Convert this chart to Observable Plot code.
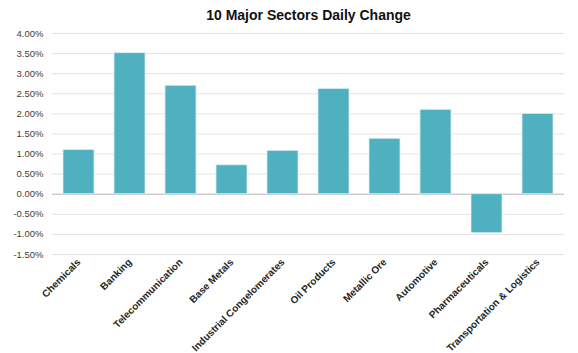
<!DOCTYPE html>
<html><head><meta charset="utf-8">
<script src="https://cdn.jsdelivr.net/npm/d3@7"></script>
<script src="https://cdn.jsdelivr.net/npm/@observablehq/plot@0.6"></script>
<style>body{margin:0;background:#fff;font-family:"Liberation Sans",Arial,sans-serif;}</style>
</head><body><div id="chart"></div>
<script>
const sectors = ["Chemicals","Banking","Telecommunication","Base Metals","Industrial Congelomerates","Oil Products","Metallic Ore","Automotive","Pharmaceuticals","Transportation & Logistics"];
const changes = [1.10, 3.51, 2.70, 0.72, 1.08, 2.62, 1.38, 2.10, -0.97, 2.00];
const yTicks = [-1.5,-1.0,-0.5,0,0.5,1.0,1.5,2.0,2.5,3.0,3.5,4.0];
const title = ["10 Major Sectors Daily Change"];

const data = sectors.map((s,i)=>({sector:s, value:changes[i]}));

const chart = Plot.plot({
  width: 578, height: 353,
  marginTop: 33, marginBottom: 99, marginLeft: 52, marginRight: 14,
  style: {fontFamily: '"Liberation Sans", Arial, sans-serif', background: "#fff"},
  x: {domain: sectors, paddingInner: 0.4, paddingOuter: 0.2, label: null},
  y: {domain: [-1.5, 4.0], label: null},
  marks: [
    Plot.ruleY(yTicks, {stroke: "#e3e3e3", strokeWidth: 1}),
    Plot.ruleY([0], {stroke: "#c0c0c0", strokeWidth: 1}),
    Plot.barY(data, {x: "sector", y: "value", fill: "#4fb0c0", stroke: "#d8eef2", strokeWidth: 0.8}),
    Plot.axisY({ticks: yTicks, tickFormat: d => d.toFixed(2) + "%", tickSize: 0, tickPadding: 9, fontSize: 9.5, fill: "#404040", label: null}),
    Plot.axisX({tickRotate: -45, tickSize: 0, tickPadding: 6, fontSize: 10, fontWeight: "bold", fill: "#262626", label: null, textAnchor: "end"}),
    Plot.text(title, {frameAnchor: "top", dy: -23, fontSize: 14, fontWeight: "bold", fill: "#111"})
  ]
});
document.getElementById("chart").append(chart);
</script></body></html>
